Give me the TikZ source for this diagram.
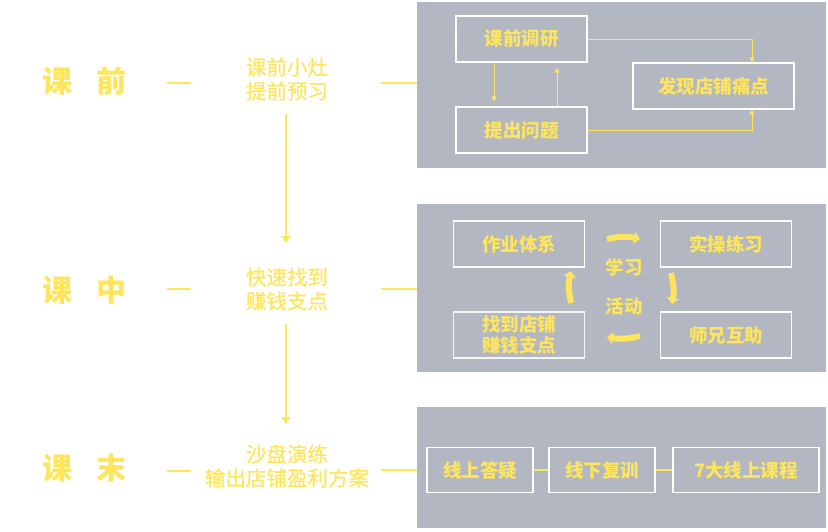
\documentclass[tikz,border=0pt]{standalone}
\usepackage{fontspec}
\setmainfont{Noto Sans CJK SC}
\newfontfamily\topicfont[FakeBold=0.8]{Noto Sans CJK SC}
\usetikzlibrary{arrows.meta}
\definecolor{hlyellow}{HTML}{FFE55C}
\definecolor{panelgray}{HTML}{B2B7C2}
\begin{document}
\begin{tikzpicture}[x=1pt, y=-1pt,
    stage/.style={text=hlyellow, font=\fontsize{30}{32}\selectfont\bfseries},
    topic/.style={text=hlyellow, align=center, font=\topicfont\fontsize{20.5}{24}\selectfont},
    panel/.style={fill=panelgray, draw=none},
    item/.style={draw=white, line width=1.2pt, text=hlyellow, minimum width=131pt, minimum height=46pt, inner sep=0pt, align=center, font=\fontsize{18.5}{21}\selectfont\bfseries},
    word/.style={text=hlyellow, font=\fontsize{18.5}{21}\selectfont\bfseries},
    link/.style={draw=hlyellow, line width=0.9pt, -{Triangle[length=5pt, width=5pt]}},
    flow/.style={draw=hlyellow, line width=2.2pt, -{Triangle[length=7pt, width=9pt]}},
    tick/.style={draw=hlyellow, line width=2.2pt},
    spin/.style={draw=hlyellow, line width=6pt, -{Triangle[length=6pt, width=12pt]}}
]
\useasboundingbox (0,0) rectangle (828,531);
% panels
\fill[panel] (417,2) rectangle (826,168);
\fill[panel] (417,204) rectangle (826,372);
\fill[panel] (417,407) rectangle (826,528);
% stages on the left
\node[stage] (pre) at (84,81) {课\hspace{0.8em}前};
\node[stage] (mid) at (84,290) {课\hspace{0.8em}中};
\node[stage] (post) at (84,468) {课\hspace{0.8em}末};
\node[topic] (warmup) at (287,79) {课前小灶\\提前预习};
\node[topic] (fastfind) at (287,289) {快速找到\\赚钱支点};
\node[topic] (sandbox) at (287,466) {沙盘演练\\输出店铺盈利方案};
\coordinate (a1) at (167,83); \coordinate (b1) at (191,83);
\coordinate (c1) at (381,83); \coordinate (d1) at (417,83);
\coordinate (a2) at (167,289); \coordinate (b2) at (191,289);
\coordinate (c2) at (381,289); \coordinate (d2) at (417,289);
\coordinate (a3) at (167,471); \coordinate (b3) at (191,471);
\coordinate (c3) at (381,470); \coordinate (d3) at (417,470);
\foreach \i in {1,2,3} {
  \draw[tick] (a\i) -- (b\i);
  \draw[tick] (c\i) -- (d\i);
}
\draw[flow] (warmup.south) ++(-1,10) coordinate (s1) -- (286,243) coordinate (e1);
\draw[flow] (fastfind.south) ++(-1,10) coordinate (s2) -- (286,424) coordinate (e2);
% before class
\node[item] (research) at (521.5,39) {课前调研};
\node[item] (question) at (521.5,130) {提出问题};
\node[item, minimum width=161pt] (pain) at (713.5,86) {发现店铺痛点};
\draw[link] (research.east) -| ([xshift=38.5pt]pain.north);
\draw[link] (question.east) -| ([xshift=38.5pt]pain.south);
\draw[link, shorten >=5pt] ([xshift=-27.5pt]research.south) -- ([xshift=-27.5pt]question.north);
\draw[link, shorten >=5pt] ([xshift=35.5pt]question.north) -- ([xshift=35.5pt]research.south);
% in class
\node[item] (homework) at (519,244) {作业体系};
\node[item] (practice) at (726,244) {实操练习};
\node[item, draw=white!85!panelgray] (pivot) at (519,335) {找到店铺\\赚钱支点};
\node[item] (mentor) at (726,335) {师兄互助};
\node[word] (learn) at (624,267) {学习};
\node[word] (act) at (624,306) {活动};
\coordinate (t1) at (607,239); \coordinate (t2) at (640,239);
\coordinate (r1) at (671,273); \coordinate (r2) at (672,304);
\coordinate (u1) at (640,336); \coordinate (u2) at (607,337);
\coordinate (l1) at (571,303); \coordinate (l2) at (571,271);
\draw[spin] (t1) to[bend left=12] (t2);
\draw[spin] (r1) to[bend left=12] (r2);
\draw[spin] (u1) to[bend left=12] (u2);
\draw[spin] (l1) to[bend left=12] (l2);
% after class
\node[item, minimum width=106pt, minimum height=45pt] (online) at (480,470) {线上答疑};
\node[item, minimum width=106pt, minimum height=45pt] (offline) at (602,470) {线下复训};
\node[item, minimum width=146pt, minimum height=45pt] (course) at (746,470) {7大线上课程};
\draw[tick] (online) -- (offline);
\draw[tick] (offline) -- (course);
\end{tikzpicture}
\end{document}
